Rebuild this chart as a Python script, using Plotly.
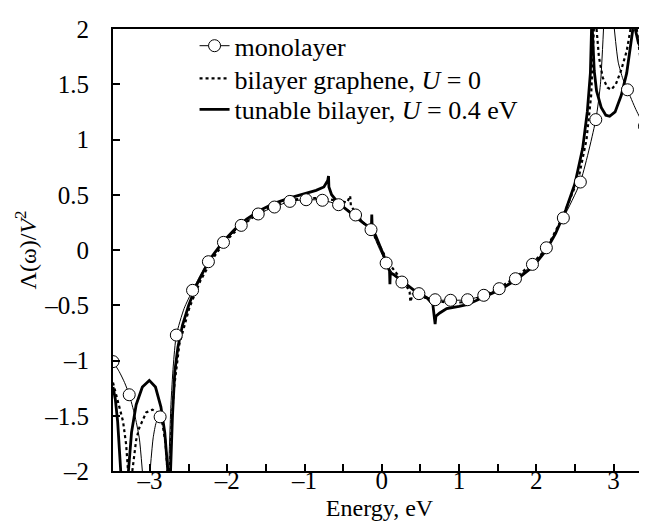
import plotly.graph_objects as go

# ---------------- data ----------------
# monolayer graphene: thin line (segments separated by None at divergences)
mono_E = [-3.48, -3.40, -3.33, -3.27, -3.20, -3.14, -3.10, None,
          -3.00, -2.96, -2.92, -2.87, -2.83, -2.80, -2.775, None,
          -2.76, -2.73, -2.70, -2.66, -2.56, -2.45, -2.35, -2.245, -2.15, -2.05,
          -1.82, -1.60, -1.39, -1.19, -0.98, -0.77, -0.56, -0.34, -0.14, -0.05,
          0.056, 0.15, 0.26, 0.48, 0.69, 0.89, 1.11, 1.32, 1.52, 1.73, 1.95,
          2.13, 2.35, 2.57, 2.77, 2.83, 2.87, None,
          3.01, 3.06, 3.12, 3.18, 3.29, 3.40, 3.43]
mono_L = [-1.01, -1.10, -1.20, -1.31, -1.49, -1.70, -2.0, None,
          -2.0, -1.70, -1.56, -1.51, -1.56, -1.70, -2.0, None,
          -2.0, -1.40, -1.05, -0.77, -0.53, -0.365, -0.23, -0.106, -0.02, 0.069,
          0.223, 0.326, 0.389, 0.44, 0.455, 0.45, 0.41, 0.317, 0.184, 0.04,
          -0.118, -0.22, -0.29, -0.395, -0.45, -0.455, -0.45, -0.41, -0.35, -0.26, -0.13,
          0.02, 0.29, 0.615, 1.18, 1.50, 2.0, None,
          2.0, 1.70, 1.55, 1.45, 1.27, 1.12, 1.09]

# circle markers on the monolayer curve
mark_E = [-3.48, -3.27, -2.87, -2.66, -2.45, -2.245, -2.05, -1.82, -1.60, -1.39,
          -1.19, -0.98, -0.77, -0.56, -0.34, -0.14, 0.056, 0.26, 0.48, 0.69,
          0.89, 1.11, 1.32, 1.52, 1.73, 1.95, 2.13, 2.35, 2.57, 2.77, 3.18, 3.40]
mark_L = [-1.01, -1.31, -1.51, -0.77, -0.365, -0.106, 0.069, 0.223, 0.326, 0.389,
          0.44, 0.455, 0.45, 0.41, 0.317, 0.184, -0.118, -0.29, -0.395, -0.45,
          -0.455, -0.45, -0.41, -0.35, -0.26, -0.13, 0.02, 0.29, 0.615, 1.18, 1.45, 1.12]

# bilayer graphene, U = 0 : dotted line
bi_E = [-3.48, -3.42, -3.35, -3.31, -3.285, None,
        -3.23, -3.18, -3.14, -3.05, -2.97, -2.90, -2.84, -2.80, -2.775, None,
        -2.745, -2.72, -2.69, -2.62, -2.49, -2.35, -2.20, -2.05, -1.85, -1.60,
        -1.40, -1.20, -1.00, -0.80, -0.60, -0.45, -0.41, -0.40, -0.30, -0.20,
        -0.10, 0.0, 0.10, 0.20, 0.30, 0.36, 0.37, 0.40, 0.50, 0.70, 0.90,
        1.10, 1.30, 1.50, 1.75, 1.95, 2.13, 2.35, 2.55, 2.65, 2.71, 2.745, None,
        2.78, 2.81, 2.86, 2.92, 2.97, 3.03, 3.10, 3.17, 3.22, None,
        3.30, 3.34, 3.38, 3.43]
bi_L = [-1.20, -1.37, -1.55, -1.76, -2.0, None,
        -2.0, -1.72, -1.61, -1.47, -1.445, -1.47, -1.57, -1.75, -2.0, None,
        -2.0, -1.55, -1.25, -0.85, -0.52, -0.28, -0.09, 0.06, 0.20, 0.33,
        0.40, 0.45, 0.47, 0.47, 0.45, 0.43, 0.49, 0.40, 0.30, 0.22,
        0.13, 0.0, -0.13, -0.22, -0.30, -0.38, -0.47, -0.40, -0.42, -0.46, -0.48,
        -0.47, -0.42, -0.35, -0.24, -0.12, 0.01, 0.31, 0.66, 1.0, 1.4, 2.0, None,
        2.0, 1.75, 1.56, 1.47, 1.45, 1.50, 1.63, 1.80, 2.0, None,
        2.0, 1.75, 1.55, 1.32]

# tunable bilayer, U = 0.4 eV : thick solid line
tb_E = [-3.48, -3.45, -3.42, -3.40, -3.38, None,
        -3.28, -3.24, -3.18, -3.10, -3.01, -2.93, -2.86, -2.81, -2.77, None,
        -2.735, -2.71, -2.68, -2.64, -2.58, -2.50, -2.40, -2.30, -2.20, -2.05,
        -1.90, -1.75, -1.60, -1.40, -1.20, -1.00, -0.85, -0.75, -0.70, -0.69,
        -0.685, -0.65, -0.58, -0.50, -0.43, -0.35, -0.25, -0.17, -0.135, -0.13,
        -0.125, -0.08, -0.03, 0.02, 0.06, 0.10, 0.105, 0.11, 0.15, 0.26, 0.41,
        0.58, 0.66, 0.69, 0.70, 0.75, 0.84, 1.00, 1.10, 1.31, 1.53, 1.74, 1.96,
        2.13, 2.25, 2.38, 2.50, 2.60, 2.66, 2.70, 2.715, None,
        2.725, 2.75, 2.78, 2.84, 2.90, 2.95, 3.02, 3.10, 3.17, 3.21, 3.25, None,
        3.28, 3.32, 3.37, 3.43]
tb_L = [-1.24, -1.35, -1.55, -1.75, -2.0, None,
        -2.0, -1.65, -1.40, -1.24, -1.18, -1.24, -1.42, -1.65, -2.0, None,
        -2.0, -1.50, -1.10, -0.88, -0.68, -0.50, -0.32, -0.18, -0.06, 0.08,
        0.19, 0.28, 0.35, 0.42, 0.47, 0.51, 0.54, 0.57, 0.63, 0.67,
        0.57, 0.50, 0.44, 0.39, 0.35, 0.30, 0.25, 0.21, 0.20, 0.32,
        0.20, 0.13, 0.05, -0.04, -0.12, -0.19, -0.31, -0.21, -0.22, -0.28, -0.36,
        -0.43, -0.49, -0.67, -0.60, -0.57, -0.53, -0.51, -0.495, -0.43, -0.36, -0.27, -0.15,
        0.0, 0.15, 0.36, 0.60, 0.92, 1.25, 1.60, 2.0, None,
        2.0, 1.62, 1.44, 1.29, 1.22, 1.21, 1.25, 1.40, 1.60, 1.80, 2.0, None,
        2.0, 1.88, 1.80, 1.72]

x_tickvals = [-3, -2, -1, 0, 1, 2, 3]
x_ticktext = ["–3", "–2", "–1", "0", "1", "2", "3"]
y_tickvals = [-2, -1.5, -1, -0.5, 0, 0.5, 1, 1.5, 2]
y_ticktext = ["–2", "–1.5", "–1", "–0.5", "0", "0.5", "1", "1.5", "2"]

legend_names = ["monolayer", "bilayer graphene, <i>U</i> = 0",
                "tunable bilayer, <i>U</i> = 0.4 eV"]

# ---------------- figure ----------------
FONT = "Liberation Serif"
fig = go.Figure()

fig.add_trace(go.Scatter(x=mono_E, y=mono_L, mode="lines", showlegend=False,
                         line=dict(color="black", width=1, shape="spline", smoothing=0.6),
                         connectgaps=False, hoverinfo="skip"))
fig.add_trace(go.Scatter(x=bi_E, y=bi_L, mode="lines", showlegend=False,
                         line=dict(color="black", width=2.2, dash="dot"),
                         connectgaps=False, hoverinfo="skip"))
fig.add_trace(go.Scatter(x=tb_E, y=tb_L, mode="lines", showlegend=False,
                         line=dict(color="black", width=2.8),
                         connectgaps=False, hoverinfo="skip"))
fig.add_trace(go.Scatter(x=mark_E, y=mark_L, mode="markers", showlegend=False,
                         marker=dict(symbol="circle", size=12, color="white",
                                     line=dict(color="black", width=1)),
                         hoverinfo="skip"))

# legend entries (one legend box per entry, for exact row placement)
fig.add_trace(go.Scatter(x=[None], y=[None], mode="lines+markers", name=legend_names[0],
                         legend="legend",
                         line=dict(color="black", width=1),
                         marker=dict(symbol="circle", size=12, color="white",
                                     line=dict(color="black", width=1))))
fig.add_trace(go.Scatter(x=[None], y=[None], mode="lines", name=legend_names[1],
                         legend="legend2",
                         line=dict(color="black", width=2.2, dash="dot")))
fig.add_trace(go.Scatter(x=[None], y=[None], mode="lines", name=legend_names[2],
                         legend="legend3",
                         line=dict(color="black", width=2.8)))

leg_common = dict(x=0.153, xanchor="left", yanchor="middle",
                  bgcolor="rgba(0,0,0,0)", font=dict(size=26, family=FONT),
                  itemwidth=30)

fig.update_layout(
    width=647, height=527,
    margin=dict(l=105, r=7, t=21, b=64),
    paper_bgcolor="white", plot_bgcolor="white",
    font=dict(family=FONT, size=24, color="black"),
    legend=dict(y=0.962, **leg_common),
    legend2=dict(y=0.888, **leg_common),
    legend3=dict(y=0.818, **leg_common),
    xaxis=dict(range=[-3.48, 3.42], showgrid=False, zeroline=False,
               showline=True, linecolor="black", linewidth=2, mirror=True,
               ticks="inside", ticklen=7, tickwidth=1.5, tickcolor="black",
               tickvals=x_tickvals, ticktext=x_ticktext,
               tickfont=dict(size=25, family=FONT),
               ticklabelstandoff=-14,
               minor=dict(dtick=0.5, tick0=0, ticks="inside", ticklen=7,
                          tickwidth=1.5, tickcolor="black", showgrid=False),
               title=dict(text="Energy, eV", standoff=6,
                          font=dict(size=24, family=FONT))),
    yaxis=dict(range=[-2, 2], showgrid=False, zeroline=False,
               showline=True, linecolor="black", linewidth=2, mirror="ticks",
               ticks="inside", ticklen=7, tickwidth=1.5, tickcolor="black",
               tickvals=y_tickvals, ticktext=y_ticktext,
               tickfont=dict(size=25, family=FONT),
               ticklabelstandoff=17,
               title=dict(text="Λ(ω)/<i>V</i><sup>2</sup>", standoff=1,
                          font=dict(size=24, family=FONT))),
)

fig.write_html("out.html")
